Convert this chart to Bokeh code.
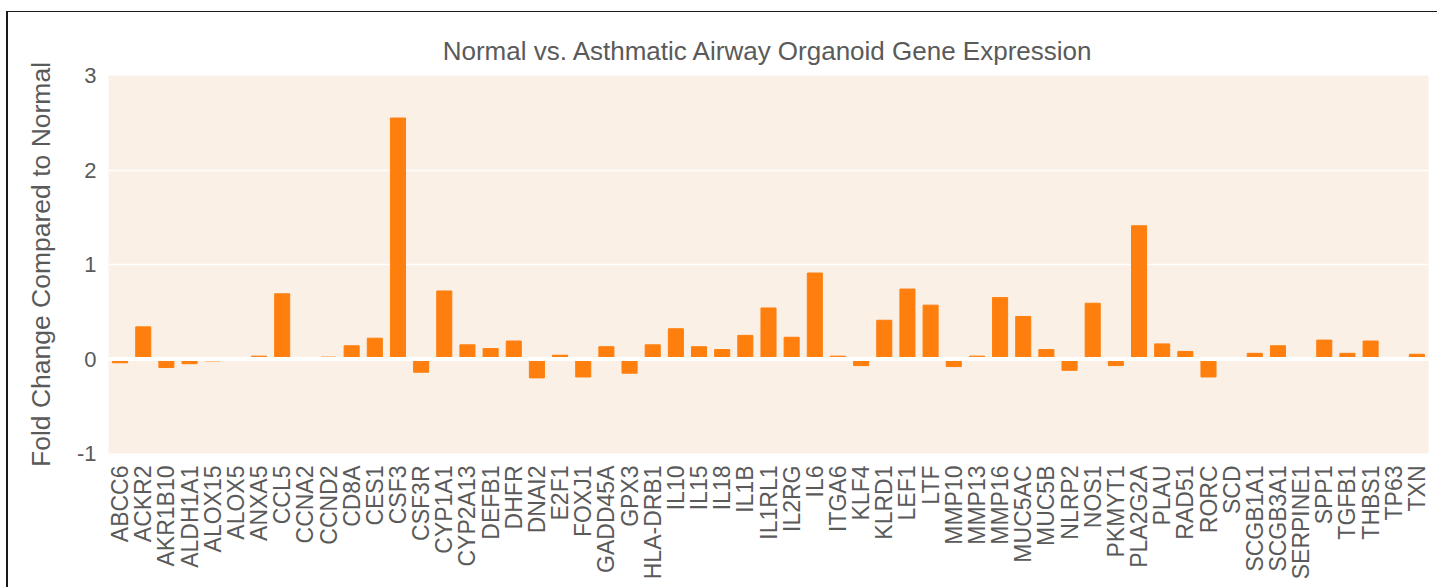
import math
from bokeh.plotting import figure
from bokeh.models import FactorRange, Range1d, FixedTicker, Span
from bokeh.embed import file_html
from bokeh.resources import INLINE

title_text = "Normal vs. Asthmatic Airway Organoid Gene Expression"
y_label = "Fold Change Compared to Normal"

genes = ["ABCC6", "ACKR2", "AKR1B10", "ALDH1A1", "ALOX15", "ALOX5", "ANXA5", "CCL5",
         "CCNA2", "CCND2", "CD8A", "CES1", "CSF3", "CSF3R", "CYP1A1", "CYP2A13",
         "DEFB1", "DHFR", "DNAI2", "E2F1", "FOXJ1", "GADD45A", "GPX3", "HLA-DRB1",
         "IL10", "IL15", "IL18", "IL1B", "IL1RL1", "IL2RG", "IL6", "ITGA6", "KLF4",
         "KLRD1", "LEF1", "LTF", "MMP10", "MMP13", "MMP16", "MUC5AC", "MUC5B", "NLRP2",
         "NOS1", "PKMYT1", "PLA2G2A", "PLAU", "RAD51", "RORC", "SCD", "SCGB1A1",
         "SCGB3A1", "SERPINE1", "SPP1", "TGFB1", "THBS1", "TP63", "TXN"]

fold_change = [-0.04, 0.34, -0.09, -0.05, -0.02, 0.005, 0.03, 0.69,
               0.0, 0.02, 0.14, 0.22, 2.55, -0.14, 0.72, 0.15,
               0.11, 0.19, -0.20, 0.04, -0.19, 0.13, -0.15, 0.15,
               0.32, 0.13, 0.10, 0.25, 0.54, 0.23, 0.91, 0.03, -0.07,
               0.41, 0.74, 0.57, -0.08, 0.03, 0.65, 0.45, 0.10, -0.12,
               0.59, -0.07, 1.41, 0.16, 0.08, -0.19, 0.0, 0.06,
               0.14, 0.0, 0.20, 0.06, 0.19, 0.0, 0.05]

y_ticks = [-1, 0, 1, 2, 3]
y_tick_labels = {-1: "-1", 0: "0", 1: "1", 2: "2", 3: "3"}

TEXT = "#5a5a5a"
FONT = "Liberation Sans"

p = figure(x_range=FactorRange(factors=genes, range_padding=0),
           y_range=Range1d(-1.0, 3.0),
           width=1431, height=576,
           output_backend="svg", toolbar_location=None,
           min_border_left=100, min_border_right=11,
           min_border_top=63, min_border_bottom=135)
p.margin = (12, 0, 0, 8)
p.styles = {"box-shadow": "-2px -1px 0 0 #1a1a1a"}

p.background_fill_color = "#FAF0E6"
p.border_fill_color = "white"
p.outline_line_color = None

p.title.text = title_text
p.title.align = "center"
p.title.text_font = FONT
p.title.text_font_size = "26px"
p.title.text_font_style = "normal"
p.title.text_color = TEXT
p.title.standoff = 19

p.vbar(x=genes, top=fold_change, width=0.65, color="#FF7F0E")

p.add_layout(Span(location=0, dimension="width", line_color="white", line_width=4))

p.xgrid.grid_line_color = None
p.ygrid.grid_line_color = "white"
p.ygrid.grid_line_width = 1.5
p.ygrid.ticker = FixedTicker(ticks=y_ticks)

p.yaxis.ticker = FixedTicker(ticks=y_ticks)
p.yaxis.major_label_overrides = y_tick_labels
for ax in (p.xaxis[0], p.yaxis[0]):
    ax.axis_line_color = None
    ax.major_tick_line_color = None
    ax.minor_tick_line_color = None
    ax.major_label_text_font = FONT
    ax.major_label_text_color = TEXT

p.xaxis.major_label_orientation = math.pi / 2
p.xaxis.major_label_text_font_size = "23px"
p.xaxis.major_label_standoff = 6

p.yaxis.major_label_text_font_size = "22px"
p.yaxis.major_label_standoff = 6
p.yaxis.axis_label = y_label
p.yaxis.axis_label_text_font = FONT
p.yaxis.axis_label_text_font_size = "26.5px"
p.yaxis.axis_label_text_font_style = "normal"
p.yaxis.axis_label_text_color = TEXT
p.yaxis.axis_label_standoff = 18

open("out.html", "w").write(file_html(p, INLINE))
